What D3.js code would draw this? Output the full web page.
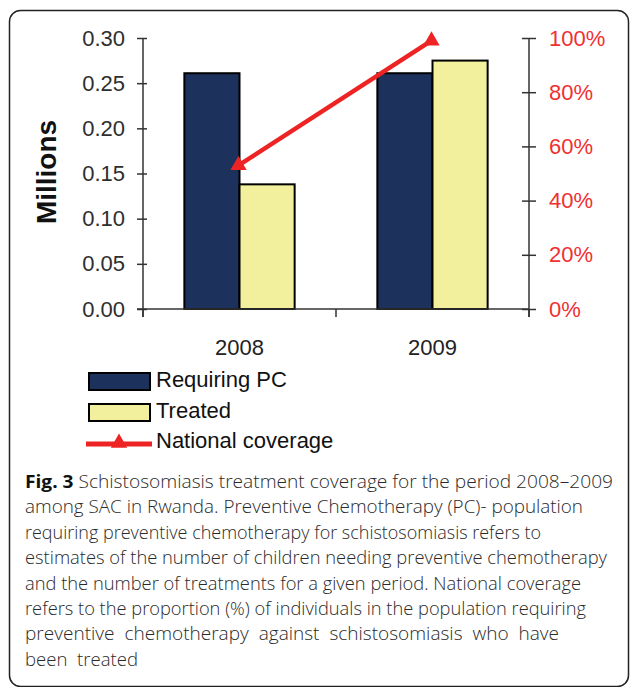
<!DOCTYPE html>
<html>
<head>
<meta charset="utf-8">
<script src="https://cdn.jsdelivr.net/npm/d3@7"></script>
<style>
  body { margin: 0; background: #fff; }
  svg { display: block; }
  text { font-family: "Liberation Sans", Arial, sans-serif; }
  .caption text { font-family: "Open Sans", "Noto Sans", sans-serif; }
</style>
</head>
<body>
<svg id="chart" width="630" height="687"></svg>
<script>
const years = ['2008', '2009'];
const requiringPC = [0.261, 0.261];   // millions
const treated = [0.138, 0.275];       // millions
const coverage = [0.53, 0.99];        // share
const leftTicks = [0, 0.05, 0.10, 0.15, 0.20, 0.25, 0.30];
const rightTicks = [0, 0.2, 0.4, 0.6, 0.8, 1.0];
const seriesNames = ['Requiring PC', 'Treated', 'National coverage'];
const captionLines = [
  'Schistosomiasis treatment coverage for the period 2008\u20132009',
  'among SAC in Rwanda. Preventive Chemotherapy (PC)- population',
  'requiring preventive chemotherapy for schistosomiasis refers to',
  'estimates of the number of children needing preventive chemotherapy',
  'and the number of treatments for a given period. National coverage',
  'refers to the proportion (%) of individuals in the population requiring',
  'preventive  chemotherapy  against  schistosomiasis  who  have',
  'been  treated'
];
const captionWidths = [588, 558, 516, 582, 556, 561, 534, 113];

const colors = { req: '#1c325c', trt: '#f2f09c', line: '#ee2424', redText: '#f03030', axis: '#333' };

const svg = d3.select('#chart');

// frame
svg.append('rect')
  .attr('x', 9.5).attr('y', 10.5)
  .attr('width', 619).attr('height', 676)
  .attr('rx', 11)
  .attr('fill', 'none')
  .attr('stroke', '#222')
  .attr('stroke-width', 1.5);

const plot = { left: 143, right: 529, top: 38, bottom: 309 };

const x0 = d3.scaleBand().domain(years).range([plot.left, plot.right]).paddingInner(0).paddingOuter(0);
const x1 = d3.scaleBand().domain(['req', 'trt']).range([0, x0.bandwidth()]).paddingInner(0).paddingOuter(0.75);
const y = d3.scaleLinear().domain([0, 0.3]).range([plot.bottom, plot.top]);
const y2 = d3.scaleLinear().domain([0, 1]).range([plot.bottom, plot.top]);

// bars
const rows = years.map((yr, i) => ({ year: yr, req: requiringPC[i], trt: treated[i] }));
const groups = svg.append('g').selectAll('g')
  .data(rows)
  .join('g')
  .attr('transform', d => `translate(${x0(d.year)},0)`);

groups.selectAll('rect')
  .data(d => ['req', 'trt'].map(k => ({ key: k, value: d[k] })))
  .join('rect')
  .attr('x', d => x1(d.key))
  .attr('y', d => y(d.value))
  .attr('width', x1.bandwidth())
  .attr('height', d => y(0) - y(d.value))
  .attr('fill', d => colors[d.key])
  .attr('stroke', '#000')
  .attr('stroke-width', 2);

// axes lines
svg.append('line')
  .attr('x1', plot.left - 6).attr('x2', plot.right)
  .attr('y1', plot.bottom).attr('y2', plot.bottom)
  .attr('stroke', colors.axis).attr('stroke-width', 1.5);

// x boundary ticks
const bounds = [plot.left].concat(years.map(d => x0(d) + x0.bandwidth()));
svg.append('g').selectAll('line')
  .data(bounds)
  .join('line')
  .attr('x1', d => d).attr('x2', d => d)
  .attr('y1', plot.bottom).attr('y2', plot.bottom + 8)
  .attr('stroke', colors.axis).attr('stroke-width', 1.5);

// category labels
const xAxis = svg.append('g')
  .attr('transform', `translate(0,${plot.bottom})`)
  .call(d3.axisBottom(x0).tickSize(0).tickPadding(30));
xAxis.select('.domain').remove();
xAxis.selectAll('text').attr('font-size', 22).attr('fill', '#222')
  .style('font-family', '"Liberation Sans", Arial, sans-serif');

// left axis
const yAxis = svg.append('g')
  .attr('transform', `translate(${plot.left},0)`)
  .call(d3.axisLeft(y).tickValues(leftTicks).tickFormat(d3.format('.2f')).tickSize(6).tickPadding(12));
yAxis.select('.domain').remove();
yAxis.selectAll('.tick line').attr('x1', 4).attr('x2', -6).attr('stroke', colors.axis).attr('stroke-width', 1.5);
yAxis.selectAll('text').attr('font-size', 22).attr('fill', '#2e2e2e')
  .style('font-family', '"Liberation Sans", Arial, sans-serif');
svg.append('line')
  .attr('x1', plot.left).attr('x2', plot.left)
  .attr('y1', plot.top).attr('y2', plot.bottom + 8)
  .attr('stroke', colors.axis).attr('stroke-width', 1.5);

// right axis
const y2Axis = svg.append('g')
  .attr('transform', `translate(${plot.right},0)`)
  .call(d3.axisRight(y2).tickValues(rightTicks).tickFormat(d3.format('.0%')).tickSize(7).tickPadding(13));
y2Axis.select('.domain').remove();
y2Axis.selectAll('.tick line').attr('x1', -7).attr('x2', 7).attr('stroke', colors.axis).attr('stroke-width', 1.5);
y2Axis.selectAll('text').attr('font-size', 22).attr('fill', colors.redText)
  .style('font-family', '"Liberation Sans", Arial, sans-serif');
svg.append('line')
  .attr('x1', plot.right).attr('x2', plot.right)
  .attr('y1', plot.top).attr('y2', plot.bottom + 8)
  .attr('stroke', colors.axis).attr('stroke-width', 1.5);

// y title
svg.append('text')
  .attr('transform', 'translate(56,172) rotate(-90)')
  .attr('text-anchor', 'middle')
  .attr('font-size', 28)
  .attr('font-weight', 'bold')
  .attr('fill', '#111')
  .text('Millions');

// coverage line
const pts = years.map((yr, i) => [x0(yr) + x0.bandwidth() / 2 - 1, y2(coverage[i])]);
svg.append('path')
  .attr('d', d3.line()(pts))
  .attr('fill', 'none')
  .attr('stroke', colors.line)
  .attr('stroke-width', 4.5);
const tri = d3.symbol(d3.symbolTriangle, 115);
svg.append('g').selectAll('path')
  .data(pts)
  .join('path')
  .attr('transform', d => `translate(${d[0]},${d[1]})`)
  .attr('d', tri)
  .attr('fill', colors.line);

// legend
const legend = svg.append('g');
const swatch = [colors.req, colors.trt];
legend.selectAll('rect')
  .data(swatch)
  .join('rect')
  .attr('x', 89).attr('y', (d, i) => 373 + i * 31)
  .attr('width', 61).attr('height', 17)
  .attr('fill', d => d)
  .attr('stroke', '#000').attr('stroke-width', 2);
legend.append('line')
  .attr('x1', 86).attr('x2', 152)
  .attr('y1', 444).attr('y2', 444)
  .attr('stroke', colors.line).attr('stroke-width', 5);
legend.append('path')
  .attr('transform', 'translate(119,443)')
  .attr('d', tri)
  .attr('fill', colors.line);
legend.selectAll('text')
  .data(seriesNames)
  .join('text')
  .attr('x', 156)
  .attr('y', (d, i) => 387 + i * 30.5)
  .attr('font-size', 22)
  .attr('fill', '#111')
  .text(d => d);

// caption
const cap = svg.append('g').attr('class', 'caption');
captionLines.forEach((line, i) => {
  const t = cap.append('text')
    .attr('x', 25)
    .attr('y', 488 + i * 25.4)
    .attr('font-size', 18)
    .attr('fill', '#2a2a2a')
    .attr('textLength', captionWidths[i])
    .attr('lengthAdjust', 'spacingAndGlyphs')
    .attr('xml:space', 'preserve')
    .style('white-space', 'pre');
  if (i === 0) {
    t.append('tspan').attr('font-weight', 'bold').attr('fill', '#111').text('Fig. 3 ');
  }
  t.append('tspan').attr('font-weight', 300).text(line);
});
</script>
</body>
</html>
